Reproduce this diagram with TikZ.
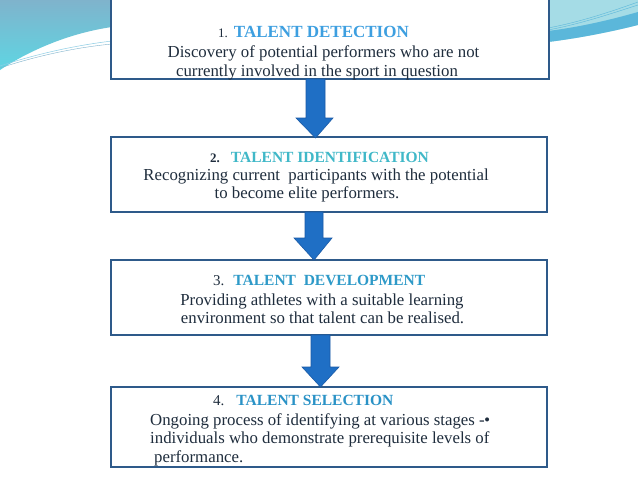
\documentclass[tikz,border=0pt]{standalone}
\usepackage{fontspec}
\setmainfont{Liberation Serif}
\definecolor{boxline}{HTML}{2E5A8A}
\definecolor{arrfill}{HTML}{1F6FC5}
\definecolor{arrline}{HTML}{1A5AA6}
\definecolor{bodytxt}{HTML}{1F2D3D}
\definecolor{tone}{HTML}{3D9FE0}
\definecolor{ttwo}{HTML}{40B8C8}
\definecolor{tthree}{HTML}{2E9AC8}
\definecolor{tfour}{HTML}{2A92C6}
\definecolor{waveA}{HTML}{7FB3CC}
\definecolor{waveB}{HTML}{5ED6E3}
\definecolor{waveC}{HTML}{A5DCE6}
\definecolor{waveD}{HTML}{5BB7DA}
\tikzset{
  box/.style={draw=boxline, line width=1.5pt, fill=white, inner sep=0pt},
  body/.style={anchor=base, inner sep=0pt, text=bodytxt, font=\fontsize{16.8}{20}\selectfont},
  bodyw/.style={anchor=base west, inner sep=0pt, text=bodytxt, font=\fontsize{16.8}{20}\selectfont},
  ttl/.style={anchor=base west, inner sep=0pt, text=bodytxt},
  arr/.style={fill=arrfill, draw=arrline, line width=0.6pt, line join=miter}
}
\begin{document}
\begin{tikzpicture}[x=1pt,y=-1pt]
\useasboundingbox (0,0) rectangle (638,479);
\fill[white] (0,0) rectangle (638,479);
% top-left wave
\shade[top color=waveA, bottom color=waveB] (0,0) -- (112,0) -- (112,27) .. controls (70,33) and (30,50) .. (0,70) -- cycle;
\draw[waveD!70, line width=0.5pt] (0,66) .. controls (30,56) and (70,46) .. (112,41);
\draw[waveA, line width=0.4pt] (0,68) .. controls (30,58) and (70,48) .. (112,44);
% top-right wave
\fill[waveC] (548,0) -- (638,0) -- (638,25) .. controls (610,32) and (580,38) .. (548,42) -- cycle;
\fill[waveD] (548,31) .. controls (580,27) and (610,20) .. (638,12) -- (638,25) .. controls (610,32) and (580,38) .. (548,42) -- cycle;
\draw[waveD, line width=0.4pt] (548,28) .. controls (580,22) and (610,12) .. (638,2);
\draw[waveD, line width=0.4pt] (548,30) .. controls (580,24) and (610,14) .. (638,5);
% boxes
\node[box, minimum width=438pt, minimum height=81pt] (b1) at (330,38.5) {};
\node[box, minimum width=436pt, minimum height=75pt] (b2) at (329,174.5) {};
\node[box, minimum width=436pt, minimum height=75pt] (b3) at (329,297.5) {};
\node[box, minimum width=436pt, minimum height=80pt] (b4) at (329,427) {};
% arrows
\coordinate (a1) at (b1.south -| 315.5,0);
\coordinate (a2) at (b2.south -| 314,0);
\coordinate (a3) at (b3.south -| 320.5,0);
\draw[arr] (306,79) -- (306,118) -- (296,118) -- (315.5,138) -- (333,118) -- (325,118) -- (325,79) -- cycle;
\draw[arr] (305,212) -- (305,238) -- (294,238) -- (314,260) -- (332,238) -- (323,238) -- (323,212) -- cycle;
\draw[arr] (311,335) -- (311,367) -- (302,367) -- (320.5,387) -- (339,367) -- (330,367) -- (330,335) -- cycle;
% box 1 text
\node[ttl] (t1) at (218,37) {{\fontsize{13}{15}\selectfont 1.}\hspace{6pt}{\fontsize{17}{20}\selectfont\bfseries\color{tone}TALENT DETECTION}};
\node[body] (l11) at (323.5,57) {Discovery of potential performers who are not};
\node[body] (l12) at (317,76) {currently involved\ in the sport in question};
% box 2 text
\node[ttl] (t2) at (210,162) {{\fontsize{13}{15}\selectfont\bfseries 2.}\hspace{11pt}{\fontsize{15.5}{18}\selectfont\bfseries\color{ttwo}TALENT IDENTIFICATION}};
\node[body] (l21) at (316,180) {Recognizing current\ \ participants with the potential};
\node[body] (l22) at (307,198) {to become elite performers.};
% box 3 text
\node[ttl] (t3) at (213,285) {{\fontsize{15}{18}\selectfont 3.}\hspace{9pt}{\fontsize{15.5}{18}\selectfont\bfseries\color{tthree}TALENT\ \ DEVELOPMENT}};
\node[body] (l31) at (322,305) {Providing athletes with a suitable learning};
\node[body] (l32) at (322.5,323) {environment so that talent can be realised.};
% box 4 text
\node[ttl] (t4) at (213,405) {{\fontsize{15}{18}\selectfont 4.}\hspace{12pt}{\fontsize{15.5}{18}\selectfont\bfseries\color{tfour}TALENT SELECTION}};
\node[bodyw] (l41) at (150,425) {Ongoing process of identifying at various stages -\raisebox{0.35ex}{\scalebox{0.6}{$\bullet$}}};
\node[bodyw] (l42) at (150,443) {individuals who demonstrate prerequisite levels of};
\node[bodyw] (l43) at (154,462) {performance.};
\end{tikzpicture}
\end{document}
